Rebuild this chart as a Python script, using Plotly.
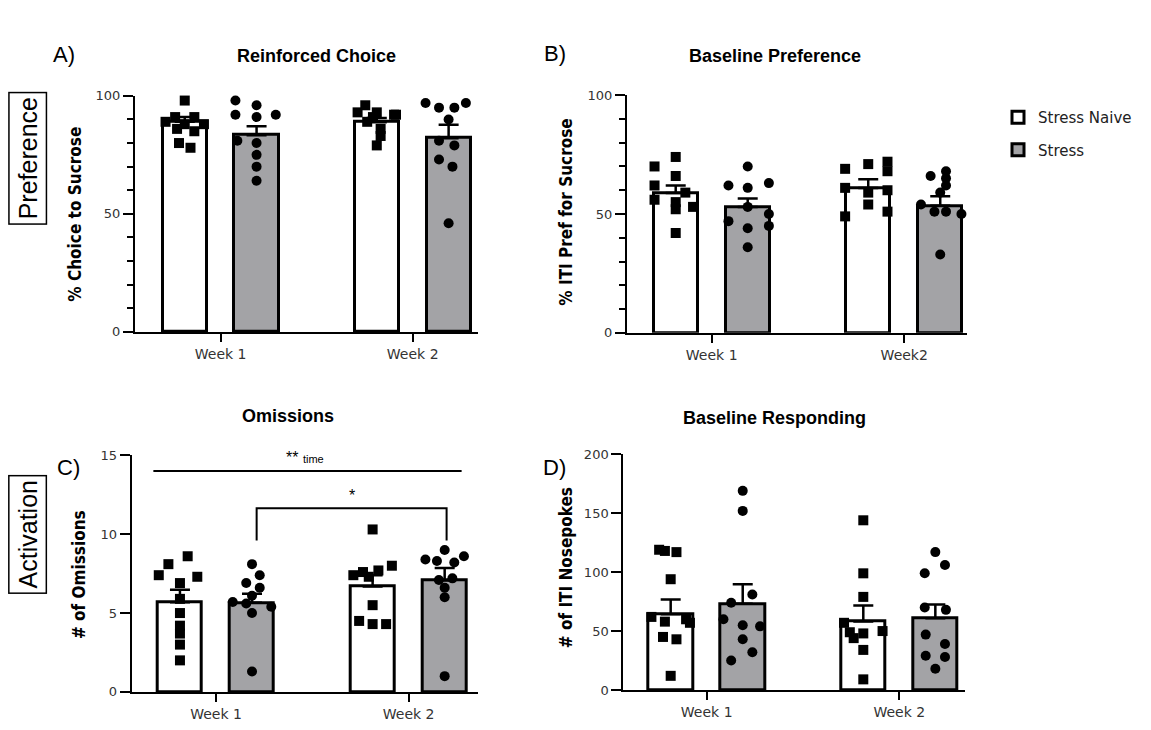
import plotly.graph_objects as go
from plotly.subplots import make_subplots

W, H = 1151, 730

# ---------------- data ----------------
weeks_A = ["Week 1", "Week 2"]
weeks_B = ["Week 1", "Week2"]
weeks_C = ["Week 1", "Week 2"]
weeks_D = ["Week 1", "Week 2"]

# Panel A: Reinforced Choice (% choice to sucrose)
A_naive_mean = [89.0, 88.8]
A_naive_sem = [2.0, 1.8]
A_stress_mean = [83.3, 82.0]
A_stress_sem = [3.8, 5.8]
A_naive_w1 = [98, 91, 91, 89, 88, 88, 86, 85, 80, 78]
A_naive_w2 = [96, 93, 93, 92, 92, 91, 89, 86, 83, 79]
A_stress_w1 = [98, 96, 92, 91, 92, 81, 80, 75, 70, 64]
A_stress_w2 = [97, 97, 95, 95, 90, 81, 79, 73, 70, 46]

# Panel B: Baseline Preference (% ITI pref for sucrose)
B_naive_mean = [58.8, 60.9]
B_naive_sem = [3.2, 3.7]
B_stress_mean = [53.0, 53.5]
B_stress_sem = [3.5, 4.0]
B_naive_w1 = [74, 70, 66, 62, 59, 56, 55, 53, 52, 42]
B_naive_w2 = [72, 71, 69, 68, 61, 60, 59, 54, 51, 49]
B_stress_w1 = [70, 63, 62, 61, 53, 50, 47, 45, 44, 36]
B_stress_w2 = [68, 66, 65, 62, 59, 54, 51, 51, 50, 33]

# Panel C: Omissions
C_naive_mean = [5.69, 6.68]
C_naive_sem = [0.79, 0.72]
C_stress_mean = [5.65, 7.06]
C_stress_sem = [0.58, 0.8]
C_naive_w1 = [8.6, 8.1, 7.4, 7.3, 6.9, 5.9, 5.0, 4.2, 3.7, 3.0, 2.0]
C_naive_w2 = [10.3, 8.0, 7.7, 7.6, 7.4, 7.3, 5.5, 4.5, 4.3, 4.3]
C_stress_w1 = [8.1, 7.4, 6.9, 6.6, 6.1, 5.7, 5.6, 5.4, 5.0, 1.3]
C_stress_w2 = [9.0, 8.6, 8.4, 8.3, 8.2, 7.2, 7.1, 6.6, 6.0, 1.0]

# Panel D: Baseline Responding (# of ITI nosepokes)
D_naive_mean = [64.3, 58.2]
D_naive_sem = [12.4, 13.5]
D_stress_mean = [73.1, 60.9]
D_stress_sem = [16.7, 11.7]
D_naive_w1 = [119, 118, 117, 94, 62, 60, 58, 57, 45, 43, 12]
D_naive_w2 = [144, 99, 79, 57, 50, 49, 48, 44, 34, 9]
D_stress_w1 = [169, 152, 81, 74, 60, 55, 54, 43, 32, 25]
D_stress_w2 = [117, 106, 99, 70, 68, 47, 39, 29, 28, 18]

# ---------------- styles / layout helpers ----------------
OFF = 0.187      # bar offset from week centre
BW = 0.23        # bar width
NAIVE_FILL = "#ffffff"
STRESS_FILL = "#a3a3a6"
YTICKFONT = dict(family="DejaVu Sans, Liberation Sans, sans-serif", size=13, color="#333")
XTICKFONT = dict(family="DejaVu Sans, Liberation Sans, sans-serif", size=14, color="#333")
TITLEFONT = "Liberation Sans, Arial, sans-serif"
YTITLEFONT = "DejaVu Sans Condensed, Liberation Sans Narrow, Liberation Sans, sans-serif"

# horizontal jitter of dots (styling only)
J = {
    "A_n1": [0, -0.05, 0.05, -0.1, 0.1, 0, -0.04, 0.05, -0.03, 0.03],
    "A_n2": [-0.06, -0.1, 0, 0.09, 0.1, -0.02, -0.05, 0.02, 0.02, 0],
    "A_s1": [-0.11, 0, -0.11, 0, 0.1, -0.1, 0, 0, 0, 0],
    "A_s2": [-0.12, 0.09, -0.05, 0.03, 0, -0.05, 0.03, -0.05, 0.02, 0],
    "B_n1": [0, -0.11, 0, -0.11, 0.05, -0.11, 0, 0.09, 0, 0],
    "B_n2": [0.1, 0, -0.12, 0.1, -0.12, 0.1, 0, 0, 0.1, -0.12],
    "B_s1": [0, 0.11, -0.1, 0, 0, 0.11, -0.1, 0.11, 0, 0],
    "B_s2": [0.03, -0.05, 0.03, 0.03, 0, -0.1, -0.03, 0.03, 0.11, 0],
    "C_n1": [0.04, -0.06, -0.11, 0.09, 0, 0, 0, 0, 0, 0, 0],
    "C_n2": [0, 0.1, 0.03, -0.05, -0.1, -0.02, 0, -0.07, 0, 0.07],
    "C_s1": [0, 0.04, -0.03, 0.04, 0, -0.1, -0.03, 0.1, 0, 0],
    "C_s2": [0, 0.1, -0.1, -0.04, 0.05, 0.04, -0.03, 0, 0, 0],
    "D_n1": [-0.06, -0.03, 0.03, 0, -0.1, 0.08, -0.03, 0.1, -0.04, 0.03, 0],
    "D_n2": [0, 0, 0, -0.1, 0.1, -0.07, 0, -0.05, 0, 0],
    "D_s1": [0, 0, 0.05, -0.06, -0.1, 0, 0.09, 0, 0.05, -0.06],
    "D_s2": [0, 0.05, -0.055, -0.055, 0.055, -0.05, 0.05, -0.05, 0.05, 0],
}

fig = make_subplots(rows=2, cols=2)

panels = [
    ("A", 1, 1, A_naive_mean, A_naive_sem, A_stress_mean, A_stress_sem,
     [A_naive_w1, A_naive_w2], [A_stress_w1, A_stress_w2]),
    ("B", 1, 2, B_naive_mean, B_naive_sem, B_stress_mean, B_stress_sem,
     [B_naive_w1, B_naive_w2], [B_stress_w1, B_stress_w2]),
    ("C", 2, 1, C_naive_mean, C_naive_sem, C_stress_mean, C_stress_sem,
     [C_naive_w1, C_naive_w2], [C_stress_w1, C_stress_w2]),
    ("D", 2, 2, D_naive_mean, D_naive_sem, D_stress_mean, D_stress_sem,
     [D_naive_w1, D_naive_w2], [D_stress_w1, D_stress_w2]),
]

for key, r, c, nm, ns, sm, ss, npts, spts in panels:
    first = key == "A"
    for name, fill, mean, sem, off, pts, sym, tag in [
        ("Stress Naive", NAIVE_FILL, nm, ns, -OFF, npts, "square", "n"),
        ("Stress", STRESS_FILL, sm, ss, OFF, spts, "circle", "s"),
    ]:
        fig.add_trace(go.Bar(
            x=[i + off for i in range(len(mean))], y=mean, width=BW,
            marker=dict(color=fill, line=dict(color="black", width=3)),
            error_y=dict(type="data", array=sem, arrayminus=[0] * len(sem),
                         symmetric=False, color="black", thickness=2.5, width=10),
            name=name, showlegend=first, legendgroup=name,
        ), row=r, col=c)
        for wi, vals in enumerate(pts):
            jit = J[f"{key}_{tag}{wi + 1}"]
            fig.add_trace(go.Scatter(
                x=[wi + off + j for j in jit], y=vals, mode="markers",
                marker=dict(symbol=sym, size=10, color="black"),
                showlegend=False, cliponaxis=False, hoverinfo="y",
            ), row=r, col=c)

def px_x(x):
    return x / W

def px_y(y):
    return 1 - y / H

# axes: domains from pixel geometry
axes_geo = {
    "A": ("xaxis", "yaxis", (135, 478), (331.7, 90.7), (-0.446, 1.34), (0, 100), 50, 10, weeks_A),
    "B": ("xaxis2", "yaxis2", (627, 967), (332.7, 90.0), (-0.44, 1.326), (0, 100), 50, 10, weeks_B),
    "C": ("xaxis3", "yaxis3", (131.7, 478), (699.3, 457.7), (-0.4375, 1.36), (0, 15), 5, None, weeks_C),
    "D": ("xaxis4", "yaxis4", (623.3, 965), (697.3, 456.7), (-0.433, 1.341), (0, 200), 50, None, weeks_D),
}

for key, (xa, ya, xpx, ypx, xr, yr, dt, mn, tt) in axes_geo.items():
    fig.layout[xa].update(
        domain=[px_x(xpx[0]), px_x(xpx[1])], range=list(xr),
        tickvals=[0, 1], ticktext=tt, ticks="outside", ticklen=8, tickwidth=2,
        tickcolor="black", showline=True, linecolor="black", linewidth=2,
        showgrid=False, zeroline=False, tickfont=XTICKFONT, fixedrange=True,
    )
    yd = dict(
        domain=[px_y(ypx[0]), px_y(ypx[1])], range=list(yr),
        tick0=0, dtick=dt, ticks="outside", ticklen=10, tickwidth=2,
        tickcolor="black", showline=True, linecolor="black", linewidth=2,
        showgrid=False, zeroline=False, tickfont=YTICKFONT, fixedrange=True,
    )
    if mn:
        yd["minor"] = dict(dtick=mn, tick0=0, ticks="outside", ticklen=6,
                           tickwidth=2, tickcolor="black", showgrid=False)
    fig.layout[ya].update(**yd)

annotations = []

def ann(text, x, y, size, bold=False, family=TITLEFONT, angle=0, **kw):
    t = f"<b>{text}</b>" if bold else text
    d = dict(text=t, x=px_x(x), y=px_y(y), xref="paper", yref="paper",
             xanchor="center", yanchor="middle", showarrow=False,
             textangle=angle, font=dict(family=family, size=size, color="black"))
    d.update(kw)
    annotations.append(d)

# panel titles
ann("Reinforced Choice", 316, 50, 18, bold=True)
ann("Baseline Preference", 775, 50, 18, bold=True)
ann("Omissions", 288, 418, 18, bold=True)
ann("Baseline Responding", 774, 420, 18, bold=True)

# panel letters
PL = "Liberation Sans, Arial, sans-serif"
ann("A)", 64, 48, 22, family=PL)
ann("B)", 555, 47, 22, family=PL)
ann("C)", 68, 470, 22, family=PL)
ann("D)", 554, 470, 22, family=PL)

# y-axis titles
ann("% Choice to Sucrose", 75, 212, 17, bold=True, angle=-90, family=YTITLEFONT)
ann("% ITI Pref for Sucrose", 566, 210, 17, bold=True, angle=-90, family=YTITLEFONT)
ann("# of Omissions", 79, 580, 17, bold=True, angle=-90, family=YTITLEFONT)
ann("# of ITI Nosepokes", 566, 573, 17, bold=True, angle=-90, family=YTITLEFONT)

# row labels in boxes
ann("Preference", 28, 155, 25, family=PL, angle=-90,
    bordercolor="black", borderwidth=1.5, borderpad=4)
ann("Activation", 28, 539, 25, family=PL, angle=-90,
    bordercolor="black", borderwidth=1.5, borderpad=4)

# significance annotations in panel C
ann("** <span style='font-size:11px'>time</span>", 305, 460, 16, family=PL)
ann("*", 352, 499, 16, family=PL)

shapes = [
    dict(type="line", xref="x3", yref="y3", x0=-0.325, x1=1.275, y0=14, y1=14,
         line=dict(color="black", width=2)),
    dict(type="path", xref="x3", yref="y3",
         path="M 0.211 9.6 L 0.211 11.65 L 1.197 11.65 L 1.197 9.6",
         line=dict(color="black", width=2)),
]

fig.update_layout(
    width=W, height=H, margin=dict(l=0, r=0, t=0, b=0),
    paper_bgcolor="white", plot_bgcolor="white",
    barmode="overlay", bargap=0,
    annotations=annotations, shapes=shapes,
    legend=dict(x=px_x(998), y=px_y(96), xanchor="left", yanchor="top",
                font=dict(family="DejaVu Sans, Liberation Sans, sans-serif", size=15, color="#222"),
                bgcolor="rgba(0,0,0,0)", tracegroupgap=10,
                traceorder="grouped"),
    showlegend=True,
)

fig.write_html("out.html")
